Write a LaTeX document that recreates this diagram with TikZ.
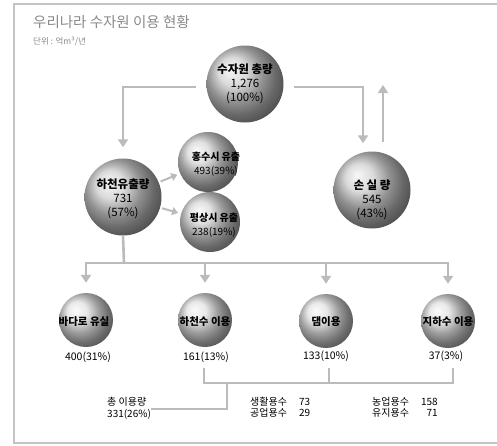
\documentclass[tikz,border=0pt]{standalone}
\usepackage{fontspec}
\setmainfont{Noto Sans CJK KR}
\usetikzlibrary{arrows.meta}
\definecolor{linegray}{HTML}{BBBBBB}
\definecolor{titlegray}{HTML}{8A8A8A}
\definecolor{framegray}{HTML}{C4C4C4}
\begin{document}
\begin{tikzpicture}[x=1pt,y=-1pt,
  conn/.style={draw=linegray, line width=2.6pt},
  arr/.style={conn, -{Triangle[width=10pt,length=8pt]}},
  arrsmall/.style={draw=linegray, line width=2pt, -{Triangle[width=8pt,length=6pt]}},
  bk/.style={draw=linegray, line width=1.6pt},
  bigball/.style={circle, shading=ball, ball color=gray!38, minimum size=77pt, inner sep=0pt},
  midball/.style={circle, shading=ball, ball color=gray!32, minimum size=60pt, inner sep=0pt},
  smallball/.style={circle, shading=ball, ball color=gray!24, minimum size=54pt, inner sep=0pt},
  biglabel/.style={align=center, font=\fontsize{11.5}{14}\selectfont, inner sep=0pt},
  midlabel/.style={align=center, font=\fontsize{10}{14}\selectfont, inner sep=0pt},
  botlabel/.style={font=\fontsize{10.5}{12}\selectfont\bfseries, inner sep=0pt},
  vallabel/.style={font=\fontsize{10.5}{12}\selectfont, inner sep=0pt},
  notelabel/.style={inner sep=0pt, font=\fontsize{10}{11.5}\selectfont}]
\useasboundingbox (0,0) rectangle (497,445);
\fill[white] (0,0) rectangle (497,445);
% frame
\draw[draw=framegray, line width=2pt] (505,4) -- (13.5,4) -- (13.5,442.5) -- (505,442.5);
% title
\node[anchor=west, inner sep=0pt, text=titlegray, font=\fontsize{14.5}{16}\selectfont] (title) at (33,22) {우리나라 수자원 이용 현황};
\node[anchor=west, inner sep=0pt, text=titlegray, font=\fontsize{8.5}{9}\selectfont] (unit) at (33,41) {단위 : 억m³/년};
% spheres
\node[bigball] (total) at (245,84) {};
\node[bigball] (river) at (123,197) {};
\node[midball] (flood) at (208,162) {};
\node[midball] (normal) at (210,222) {};
\node[bigball] (loss) at (372,190) {};
\node[smallball] (sea) at (86,320) {};
\node[smallball] (riveruse) at (205,320) {};
\node[smallball] (dam) at (326,321) {};
\node[smallball] (ground) at (448,321) {};
% sphere labels
\node[biglabel] (totaltxt) at (245,84) {\textbf{수자원 총량}\\1,276\\(100\%)};
\node[biglabel] (rivertxt) at (123,199) {\textbf{하천유출량}\\731\\(57\%)};
\node[biglabel] (losstxt) at (372,200) {\textbf{손 실 량}\\545\\(43\%)};
\node[midlabel] (floodtxt) at (216,164) {\textbf{홍수시 유출}\\493(39\%)};
\node[midlabel] (normaltxt) at (214,225) {\textbf{평상시 유출}\\238(19\%)};
\node[botlabel] (seatxt) at (84,322) {바다로 유실};
\node[botlabel] (riverusetxt) at (205,322) {하천수 이용};
\node[botlabel] (damtxt) at (326,322) {댐이용};
\node[botlabel] (groundtxt) at (448,322) {지하수 이용};
% values
\node[vallabel] (v1) at (88,357) {400(31\%)};
\node[vallabel] (v2) at (206,357) {161(13\%)};
\node[vallabel] (v3) at (326,356) {133(10\%)};
\node[vallabel] (v4) at (446,356) {37(3\%)};
% top connectors
\draw[arr, shorten <=10pt, shorten >=11pt] ([yshift=-3pt]total.west) -| (river.north);
\draw[arr, shorten <=10pt, shorten >=8pt] ([yshift=-3pt]total.east) -| ([xshift=-9pt]loss.north);
\coordinate (upend) at (383,85);
\draw[arr] ([xshift=11pt,yshift=9pt]loss.north) -- (upend);
% river to flood/normal
\draw[arrsmall, shorten <=2pt, shorten >=3pt] (river) -- (flood);
\draw[arrsmall, shorten <=2pt, shorten >=3pt] (river) -- (normal);
% bus
\coordinate (bus) at (124,263);
\draw[conn] (river.south) -- (bus);
\draw[arr, shorten >=10pt] (bus) -| (sea.north);
\draw[arr, shorten >=10pt] (bus) -| (riveruse.north);
\draw[arr, shorten >=10pt] (bus) -| (dam.north);
\draw[arr, shorten >=10pt] (bus) -| (ground.north);
% bottom bracket
\coordinate (t1) at (204,368); \coordinate (t2) at (329,368); \coordinate (t3) at (453,368);
\coordinate (b1) at (204,383); \coordinate (b2) at (329,383); \coordinate (b3) at (453,383);
\coordinate (bj) at (227,383);
\coordinate (elbow) at (227,409);
\draw[bk] (t1) -- (b1) -- (b3) -- (t3);
\draw[bk] (t2) -- (b2);
\node[anchor=west, align=left, notelabel] (usage) at (107,408.5) {총 이용량\\331(26\%)};
\draw[bk] (bj) -- (elbow) -- (usage.east |- elbow);
\node[anchor=west, notelabel] (tab1) at (250,408.5)
  {\begin{tabular}{@{}l@{\hspace{12pt}}r@{}}생활용수 & 73\\[-1pt]공업용수 & 29\end{tabular}};
\node[anchor=west, notelabel] (tab2) at (372,408.5)
  {\begin{tabular}{@{}l@{\hspace{12pt}}r@{}}농업용수 & 158\\[-1pt]유지용수 & 71\end{tabular}};
\end{tikzpicture}
\end{document}
